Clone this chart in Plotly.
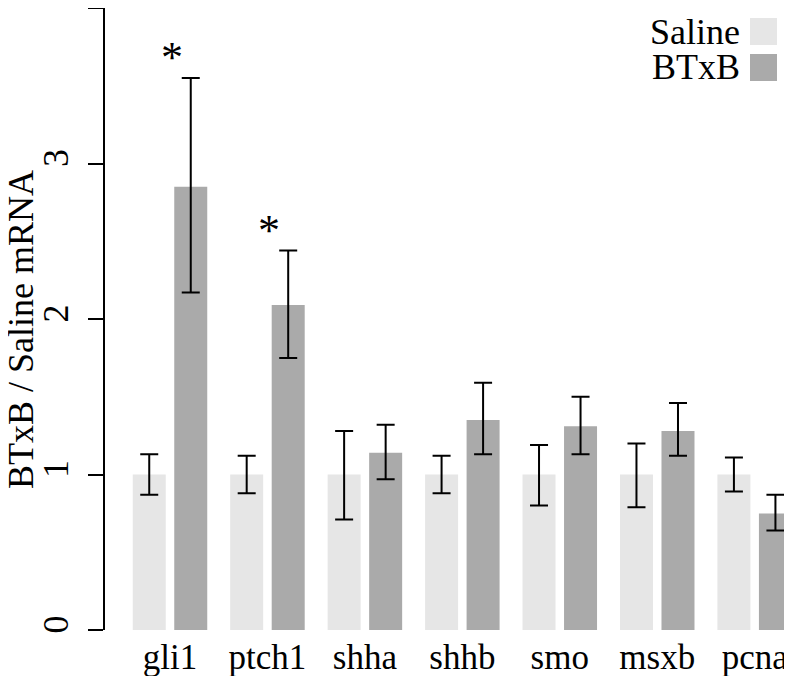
import plotly.graph_objects as go

genes = ["gli1", "ptch1", "shha", "shhb", "smo", "msxb", "pcna"]
saline_mean = [1.0, 1.0, 1.0, 1.0, 1.0, 1.0, 1.0]
saline_upper = [1.13, 1.12, 1.28, 1.12, 1.19, 1.20, 1.11]
saline_lower = [0.87, 0.88, 0.71, 0.88, 0.80, 0.79, 0.89]
btxb_mean = [2.85, 2.09, 1.14, 1.35, 1.31, 1.28, 0.75]
btxb_upper = [3.55, 2.44, 1.32, 1.59, 1.50, 1.46, 0.87]
btxb_lower = [2.17, 1.75, 0.97, 1.13, 1.13, 1.12, 0.64]
signif = ["*", "*", "", "", "", "", ""]
yticks = [0, 1, 2, 3, 4]

series_names = ["Saline", "BTxB"]
colors = ["#e6e6e6", "#aaaaaa"]
FONT = "Liberation Serif, Times New Roman, Times, serif"

# the page body has an 8px margin; size the figure so it fills the window
OFF = 8
W, H = 792 - OFF, 676 - OFF
ml, mr, mt, mb = 97, 0, 0, 46
pw, ph = W - ml - mr, H - mt - mb


def px(x):
    return (x - OFF - ml) / pw


def py(y):
    return (OFF + mt + ph - y) / ph


fig = go.Figure()
for name, col, m, up, lo in [
    (series_names[0], colors[0], saline_mean, saline_upper, saline_lower),
    (series_names[1], colors[1], btxb_mean, btxb_upper, btxb_lower),
]:
    fig.add_trace(go.Bar(
        x=genes, y=m, name=name, marker=dict(color=col, line=dict(width=0)),
        error_y=dict(type="data", symmetric=False,
                     array=[u - v for u, v in zip(up, m)],
                     arrayminus=[v - l for v, l in zip(m, lo)],
                     color="black", thickness=2, width=9),
        showlegend=False,
    ))

for g, s, up in zip(genes, signif, btxb_upper):
    if s:
        fig.add_annotation(x=g, y=up + 0.13, xref="x", yref="y", text=s,
                           showarrow=False, xshift=2, yanchor="middle",
                           font=dict(family=FONT, size=44, color="black"))

# legend (text left of key, as in reference)
for i, (name, col) in enumerate(zip(series_names, colors)):
    top = 18 + i * 36
    fig.add_shape(type="rect", xref="paper", yref="paper",
                  x0=px(750), x1=px(777), y0=py(top + 27), y1=py(top),
                  fillcolor=col, line=dict(width=0))
    fig.add_annotation(x=px(742), y=py(top + 13.5), xref="paper", yref="paper",
                       text=name, showarrow=False, xanchor="right", yanchor="middle",
                       height=32, valign="middle",
                       font=dict(family=FONT, size=36, color="black"))

fig.add_annotation(x=px(21), y=py(330), xref="paper", yref="paper",
                   text="BTxB / Saline mRNA", textangle=-90, showarrow=False,
                   xanchor="center", yanchor="middle",
                   font=dict(family=FONT, size=36, color="black"))

fig.update_layout(
    width=W, height=H,
    margin=dict(l=ml, r=mr, t=mt, b=mb, pad=0, autoexpand=False),
    plot_bgcolor="white", paper_bgcolor="white",
    barmode="group", bargap=0.148, bargroupgap=0.205,
    font=dict(family=FONT, size=35, color="black"),
    xaxis=dict(range=[-0.667, 6.383], showline=False, ticks="", showgrid=False,
               zeroline=False, tickfont=dict(family=FONT, size=35),
               ticklabelstandoff=3, automargin=False),
    yaxis=dict(range=[0, 4], tickvals=yticks, showline=True, linecolor="black",
               linewidth=1.5, ticks="outside", ticklen=15, tickwidth=1.5,
               tickcolor="black", showgrid=False, zeroline=False,
               tickangle=-90, tickfont=dict(family=FONT, size=36),
               ticklabelstandoff=6, automargin=False),
)

fig.write_html("out.html")
